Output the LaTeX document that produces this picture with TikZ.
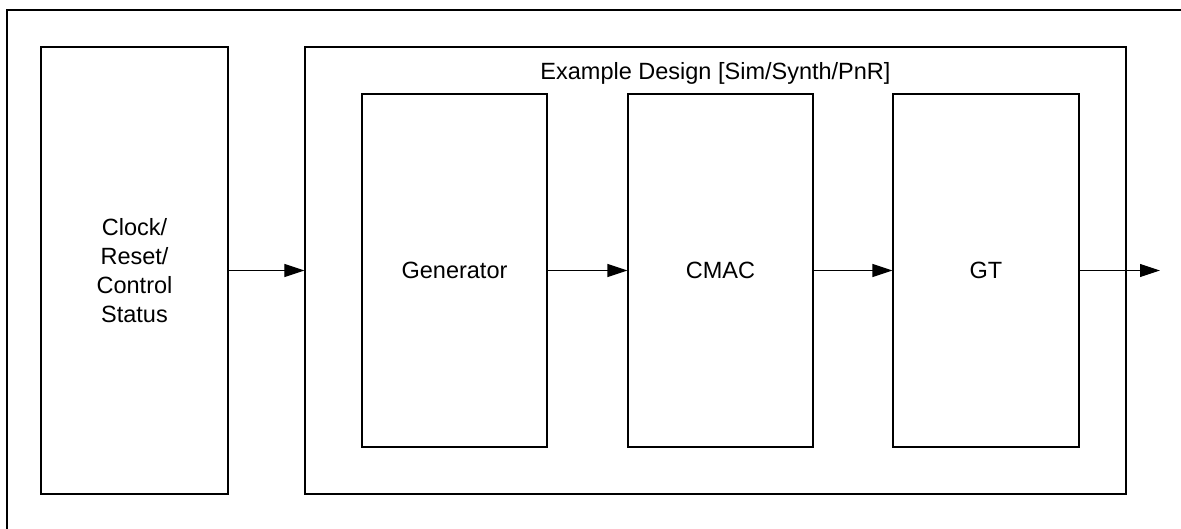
\documentclass[tikz,border=0pt]{standalone}
\usepackage{fontspec}
\setmainfont{Liberation Sans}
\usetikzlibrary{arrows.meta}
\tikzset{every picture/.style={x=1bp, y=-1bp, line width=1.1bp}}
\tikzset{blk/.style={draw, rectangle, inner sep=0pt, align=center, font=\fontsize{23.5bp}{29bp}\selectfont}}
\tikzset{arr/.style={-{Triangle[length=20bp, width=13bp]}}}
\newcommand\blkbox[5]{
  \node[blk, minimum width=#3, minimum height=#4] (#1) at #2 {#5};
}

\begin{document}
\begin{tikzpicture}
      \useasboundingbox (0,0) rectangle (1181,529);
      \def\yc{270.5}

      % outer frame, cut at right and bottom
      \draw (7,540) -- (7,10) -- (1190,10);

      \blkbox{clk}{(134.5,\yc)}{187bp}{447bp}{Clock/\\Reset/\\Control\\Status}
      \blkbox{design}{(715.5,\yc)}{821bp}{447bp}{}
      \node[blk, draw=none] (title) at (715.5,73) {Example Design [Sim/Synth/PnR]};

      \blkbox{gen}{(454.5,\yc)}{185bp}{353bp}{Generator}
      \blkbox{cmac}{(720.5,\yc)}{185bp}{353bp}{CMAC}
      \blkbox{gt}{(986,\yc)}{186bp}{353bp}{GT}
      \coordinate (out) at (1160,\yc);

      \draw[arr] (clk.east) -- (design.west);
      \draw[arr] (gen.east) -- (cmac.west);
      \draw[arr] (cmac.east) -- (gt.west);
      \draw[arr] (gt.east) -- (out);
    \end{tikzpicture}
\end{document}
